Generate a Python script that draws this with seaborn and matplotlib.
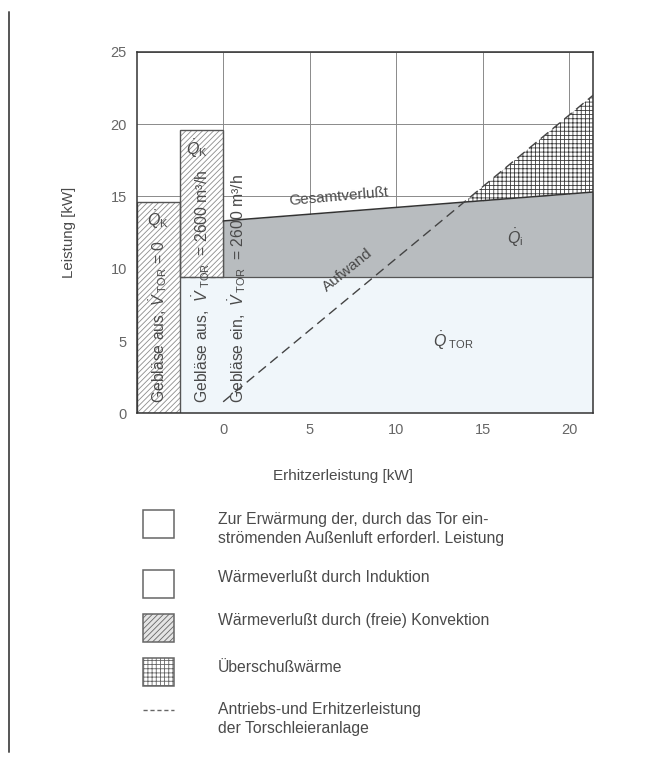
import numpy as np
import matplotlib
matplotlib.use("Agg")
import matplotlib.pyplot as plt
from matplotlib.patches import Rectangle
import seaborn as sns

# --- data ---
bar_left = [-5.0, -2.5]
bar_right = [-2.5, 0.0]
bar_top = [14.6, 19.6]
bar_bottom = [0.0, 9.4]
q_tor = 9.4
gesamt_x = [0.0, 21.4]
gesamt_y = [13.3, 15.3]
aufwand_x = [0.0, 21.4]
aufwand_y = [0.8, 22.0]
x_ticks = [0, 5, 10, 15, 20]
y_ticks = [0, 5, 10, 15, 20, 25]
legend_labels = [
    "Zur Erwärmung der, durch das Tor ein-\nströmenden Außenluft erforderl. Leistung",
    "Wärmeverlußt durch Induktion",
    "Wärmeverlußt durch (freie) Konvektion",
    "Überschußwärme",
    "Antriebs-und Erhitzerleistung\nder Torschleieranlage",
]

sns.set_style("white")
plt.rcParams["font.family"] = ["Liberation Sans", "DejaVu Sans"]
plt.rcParams["mathtext.fontset"] = "custom"
plt.rcParams["mathtext.rm"] = "Liberation Sans"
plt.rcParams["mathtext.it"] = "Liberation Sans:italic"
plt.rcParams["hatch.linewidth"] = 0.6

txt = "#4a4a4a"
edge = "#555555"
blue = "#f0f6fa"
grey = "#b8bcbf"

fig = plt.figure(figsize=(6.53, 7.62), dpi=100)
ax = fig.add_axes([0.2093, 0.4575, 0.6993, 0.4747])

ax.set_xlim(-5, 21.4)
ax.set_ylim(0, 25)
for v in x_ticks:
    ax.axvline(v, color="#8a8a8a", lw=0.7, zorder=0)
for v in y_ticks[1:]:
    ax.axhline(v, color="#8a8a8a", lw=0.7, zorder=0)

# Q_TOR region and Q_i region
ax.fill_between([bar_left[1], gesamt_x[1]], 0, q_tor, color=blue, zorder=1, lw=0)
ax.fill_between(gesamt_x, q_tor, gesamt_y, color=grey, zorder=1, lw=0)
ax.plot([0, gesamt_x[1]], [q_tor, q_tor], color=edge, lw=0.9, zorder=2)
ax.plot([bar_left[1], 0], [q_tor, q_tor], color=edge, lw=0.9, ls=(0, (4, 4)), zorder=3)
ax.plot([0, 0], [q_tor, gesamt_y[0]], color=edge, lw=0.9, zorder=2)

# convection bars: light hatch, darker outline
for l, r, b, t in zip(bar_left, bar_right, bar_bottom, bar_top):
    ax.add_patch(Rectangle((l, b), r - l, t - b, facecolor="white", edgecolor="#8c8c8c",
                           hatch="//////", lw=0, zorder=2))
    ax.add_patch(Rectangle((l, b), r - l, t - b, fill=False, edgecolor=edge,
                           lw=1.0, zorder=2.5))

# Überschußwärme
xs = np.linspace(gesamt_x[0], gesamt_x[1], 400)
g = np.interp(xs, gesamt_x, gesamt_y)
a = np.interp(xs, aufwand_x, aufwand_y)
ax.fill_between(xs, g, a, where=a > g, facecolor="white", edgecolor="#3a3a3a",
                hatch="++++", lw=0, zorder=2)

sns.lineplot(x=gesamt_x, y=gesamt_y, ax=ax, color="#333333", lw=1.1, zorder=3)
sns.lineplot(x=aufwand_x, y=aufwand_y, ax=ax, color="#444444", lw=1.0,
             linestyle=(0, (7, 4)), zorder=3)

for s in ax.spines.values():
    s.set_color("#333333")
    s.set_linewidth(1.1)
ax.set_xticks(x_ticks)
ax.set_yticks(y_ticks)
ax.tick_params(direction="out", length=4, width=0.7, color="#888888",
               labelsize=10.5, labelcolor="#666666", pad=3)

ax.set_ylabel("Leistung [kW]", fontsize=10.8, color=txt)
ax.yaxis.set_label_coords(-0.132, 0.5)
ax.set_xlabel("Erhitzerleistung [kW]", fontsize=11, color=txt)
ax.xaxis.set_label_coords(0.452, -0.155)

# labels inside the chart
vt = r"$\dot{V}_{\ \rm TOR}$"
ax.text(-3.75, 0.7, "Gebläse aus, " + vt + " = 0", rotation=90,
        ha="center", va="bottom", fontsize=11.3, color=txt, zorder=4)
ax.text(-1.25, 0.7, "Gebläse aus,  " + vt + "  = 2600 m³/h", rotation=90,
        ha="center", va="bottom", fontsize=11.3, color=txt, zorder=4)
ax.text(0.8, 0.7, "Gebläse ein,  " + vt + "  = 2600 m³/h", rotation=90,
        ha="center", va="bottom", fontsize=11.3, color=txt, zorder=4)
ax.text(-3.8, 13.4, r"$\dot{Q}_{\rm K}$", fontsize=11.5, color=txt, ha="center", va="center", zorder=4)
ax.text(-1.5, 18.3, r"$\dot{Q}_{\rm K}$", fontsize=11.5, color=txt, ha="center", va="center", zorder=4)
ax.text(16.9, 12.1, r"$\dot{Q}_{\rm i}$", fontsize=11.5, color=txt, ha="center", va="center", zorder=4)
ax.text(13.3, 5.0, r"$\dot{Q}_{\ \rm TOR}$", fontsize=11.5, color=txt, ha="center", va="center", zorder=4)
ax.text(6.7, 15.0, "Gesamtverlußt", fontsize=11, color=txt, rotation=5,
        ha="center", va="center", zorder=4)
ax.text(7.2, 9.9, "Aufwand", fontsize=11, color=txt, rotation=39,
        ha="center", va="center", zorder=4)

# legend and page border drawn in pixel coordinates
lg = fig.add_axes([0, 0, 1, 1], zorder=-1)
lg.set_xlim(0, 653)
lg.set_ylim(762, 0)
lg.axis("off")
lg.plot([9, 9], [12, 752], color="#555555", lw=1.4)
box_tops = [510, 570, 614, 658]
box_hatch = [None, None, "//////", "++++"]
box_fill = ["white", "white", "#e4e4e4", "white"]
for t, h, f in zip(box_tops, box_hatch, box_fill):
    lg.add_patch(Rectangle((143, t), 31, 28, facecolor=f, edgecolor="#666666",
                           hatch=h, lw=1.1))
lg.plot([143, 174], [710, 710], color="#666666", lw=1.0, ls=(0, (3, 2)))
text_y = [529, 578, 620, 667, 719]
for y, lab in zip(text_y, legend_labels):
    lg.text(218, y, lab, fontsize=11.3, color=txt, ha="left", va="center", linespacing=1.3)

fig.savefig("out.png", dpi=100)
